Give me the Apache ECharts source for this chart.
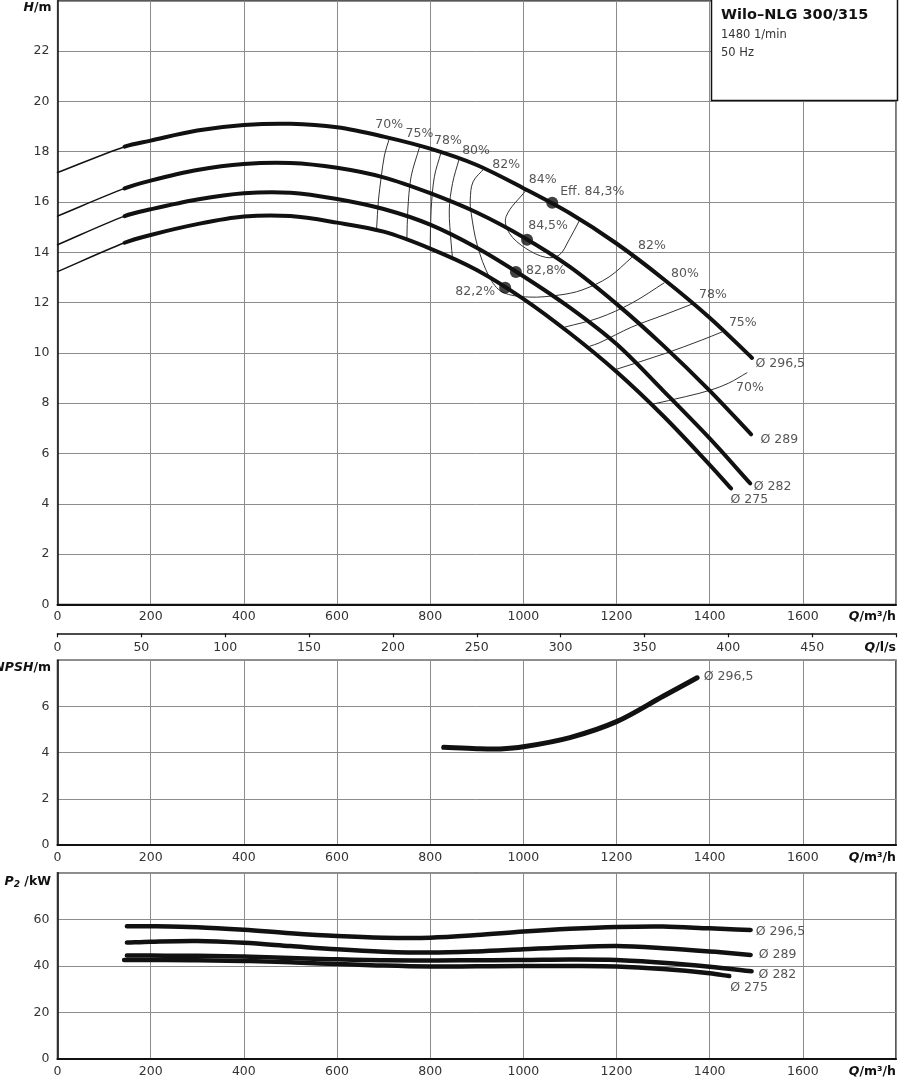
<!DOCTYPE html>
<html>
<head>
<meta charset="utf-8">
<script src="https://cdn.jsdelivr.net/npm/echarts@6/dist/echarts.min.js"></script>
<style>html,body{margin:0;padding:0;background:#fff}#c{width:899px;height:1080px}</style>
</head>
<body>
<div id="c"></div>
<script>
// ---------- data ----------
// Q [m3/h], H [m]
const qh_2965 = [[0,17.17],[144,18.2],[200,18.44],[300,18.84],[400,19.06],[500,19.11],[600,18.97],[700,18.6],[800,18.12],[900,17.47],[1000,16.55],[1100,15.55],[1200,14.35],[1300,12.95],[1400,11.4],[1491,9.8]];
const qh_289  = [[0,15.44],[144,16.54],[200,16.85],[300,17.27],[400,17.51],[500,17.55],[600,17.36],[700,16.98],[800,16.35],[900,15.58],[1000,14.6],[1100,13.42],[1200,11.95],[1300,10.3],[1400,8.5],[1489,6.76]];
const qh_282  = [[0,14.3],[144,15.44],[200,15.71],[300,16.1],[400,16.35],[500,16.37],[600,16.12],[700,15.72],[800,15.1],[900,14.18],[1000,13.05],[1100,11.8],[1200,10.35],[1300,8.5],[1400,6.6],[1487,4.81]];
const qh_275  = [[0,13.23],[144,14.38],[200,14.69],[300,15.12],[400,15.42],[500,15.44],[600,15.18],[700,14.82],[800,14.15],[900,13.3],[1000,12.15],[1100,10.78],[1200,9.25],[1300,7.5],[1400,5.55],[1446,4.61]];
const diaLabels = ['Ø 296,5','Ø 289','Ø 282','Ø 275'];

// best efficiency points
const bep = [[1062,15.97],[1008,14.5],[984,13.22],[961,12.59]];
const bepLabels = ['Eff. 84,3%','84,5%','82,8%','82,2%'];

// iso-efficiency lines
const eff70a = [[712,18.5],[702,17.87],[695,17.0],[689,16.08],[685,14.92]];
const eff75a = [[777,18.17],[759,17.0],[752,15.68],[750,14.52]];
const eff78a = [[823,17.95],[809,17.0],[802,15.68],[800,14.16]];
const eff80a = [[862,17.7],[848,16.74],[841,15.68],[845,14.36],[848,13.76]];
const eff82  = [[916,17.33],[892,16.8],[886,16.08],[888,15.56],[901,14.29],[927,13.02],[955,12.42],[1012,12.22],[1077,12.3],[1126,12.5],[1184,13.02],[1233,13.8]];
const eff84  = [[1005,16.45],[963,15.42],[970,14.76],[1005,14.16],[1048,13.8],[1077,13.89],[1098,14.49],[1120,15.25]];
const eff80b = [[1090,11.03],[1162,11.39],[1233,11.98],[1302,12.78]];
const eff78b = [[1143,10.27],[1162,10.39],[1233,11.03],[1302,11.51],[1362,11.94]];
const eff75b = [[1200,9.35],[1305,9.98],[1383,10.51],[1426,10.83]];
const eff70b = [[1275,7.95],[1348,8.26],[1402,8.52],[1441,8.8],[1480,9.21]];
const effLeftLabels  = ['70%','75%','78%','80%','82%','84%'];
const effRightLabels = ['82%','80%','78%','75%','70%'];

// NPSH [m]
const npsh_2965 = [[829,4.23],[900,4.17],[950,4.16],[1000,4.25],[1100,4.65],[1200,5.34],[1300,6.44],[1373,7.24]];

// P2 [kW]
const p2_2965 = [[149,57.0],[200,57.0],[300,56.6],[400,55.5],[500,54.0],[600,52.8],[700,52.1],[800,52.1],[900,53.2],[1000,54.7],[1100,55.9],[1200,56.7],[1300,56.9],[1400,56.1],[1488,55.4]];
const p2_289  = [[149,50.0],[200,50.4],[300,50.7],[400,49.9],[500,48.5],[600,47.1],[700,46.1],[800,45.7],[900,46.2],[1000,47.1],[1100,48.0],[1200,48.5],[1300,47.6],[1400,46.2],[1488,44.7]];
const p2_282  = [[149,44.4],[200,44.4],[300,44.3],[400,44.0],[500,43.4],[600,42.8],[700,42.4],[800,42.3],[900,42.4],[1000,42.5],[1100,42.7],[1200,42.5],[1300,41.3],[1400,39.6],[1490,37.7]];
const p2_275  = [[143,42.5],[200,42.5],[300,42.4],[400,42.1],[500,41.5],[600,40.8],[700,40.1],[800,39.7],[900,39.8],[1000,39.9],[1100,39.9],[1200,39.7],[1300,38.6],[1400,36.8],[1442,35.6]];

// axis ticks
const qTicks = {min:0, max:1800, interval:200};
const lsTicks = {min:0, max:500, interval:50};
const hTicks = {min:0, max:24, interval:2};
const npshTicks = {min:0, max:8, interval:2};
const p2Ticks = {min:0, max:80, interval:20};

// ---------- chart ----------
const FONT = 'DejaVu Sans';
const LBL = '#333';
const chart = echarts.init(document.getElementById('c'), null, {renderer:'canvas'});

// smooth path through pixel points (tangent = chord of neighbours, handle = 1/3 segment)
function smoothPath(px, from, to){
  const n = px.length;
  function tan(i){
    const a = px[Math.max(i-1,0)], b = px[Math.min(i+1,n-1)];
    const dx = b[0]-a[0], dy = b[1]-a[1], l = Math.hypot(dx,dy) || 1;
    return [dx/l, dy/l];
  }
  let d = 'M' + px[from][0] + ',' + px[from][1];
  for (let i = from; i < to; i++){
    const p1 = px[i], p2 = px[i+1];
    const L = Math.hypot(p2[0]-p1[0], p2[1]-p1[1]) / 3;
    const t1 = tan(i), t2 = tan(i+1);
    d += ' C' + (p1[0]+t1[0]*L) + ',' + (p1[1]+t1[1]*L) + ' ' + (p2[0]-t2[0]*L) + ',' + (p2[1]-t2[1]*L) + ' ' + p2[0] + ',' + p2[1];
  }
  return d;
}
function curve(data, idx, width, color, z, from, to){
  return {type:'custom', coordinateSystem:'cartesian2d', xAxisIndex:idx, yAxisIndex:idx,
    data:data, silent:true, animation:false, z:z||3, clip:false,
    renderItem:function(params, api){
      if (params.dataIndex !== 0) return null;
      const px = data.map(p => api.coord(p));
      const a = from == null ? 0 : from, b = to == null ? px.length-1 : to;
      return {type:'path', shape:{pathData: smoothPath(px, a, b)},
        style:{fill:'none', stroke:color||'#111', lineWidth:width, lineCap:'round', lineJoin:'round'}};
    }};
}
function labels(idx, items){
  return {type:'scatter', xAxisIndex:idx, yAxisIndex:idx, silent:true, animation:false, z:7,
    symbol:'circle', symbolSize:1, itemStyle:{color:'rgba(0,0,0,0)'},
    data: items.map(it => ({value: it[0], label:{show:true, formatter: it[1], position:'inside', offset: it[2],
      align: it[3] || 'center', verticalAlign:'middle', color:'#2b2b2b', fontSize:12.5, fontFamily:FONT,
      textBorderWidth:0, textBorderColor:'transparent', textShadowBlur:0}}))};
}
function qAxis(gi){
  return Object.assign({type:'value', gridIndex:gi,
    axisLine:{show:true, onZero:false, lineStyle:{color:'#111', width:2}},
    axisTick:{show:false},
    splitLine:{show:true, lineStyle:{color:'#8c8c8c', width:1}},
    axisLabel:{color:LBL, fontSize:12.5, fontFamily:FONT, margin:6, alignMaxLabel:'right',
      formatter: v => v === 1800 ? '{q|Q}{u|/m³/h}' : String(v),
      rich:{q:{fontWeight:'bold', fontStyle:'italic', color:'#111', fontSize:12.5, fontFamily:FONT},
            u:{fontWeight:'bold', color:'#111', fontSize:12.5, fontFamily:FONT}}}
  }, qTicks);
}
function vAxis(gi, ticks){
  return Object.assign({type:'value', gridIndex:gi,
    axisLine:{show:true, onZero:false, lineStyle:{color:'#111', width:1.5}},
    axisTick:{show:false},
    splitLine:{show:true, lineStyle:{color:'#8c8c8c', width:1}},
    axisLabel:{color:LBL, fontSize:12.5, fontFamily:FONT, margin:8,
      formatter: v => v === ticks.max ? '' : String(v)}
  }, ticks);
}

const L = 57.5, W = 840;
const series = [];

// iso-efficiency lines
const leftIso = [eff70a, eff75a, eff78a, eff80a, eff82, eff84];
const leftOff = [[0,-14],[0,-14],[7,-12],[17,-8],[22,-4],[17,-11]];
const rightIso = [eff80b, eff78b, eff75b, eff70b];
const rightOff = [[21,-9],[21,-9],[21,-9],[3,15]];
const isoLabels = [];
leftIso.forEach((d,i) => { series.push(curve(d, 0, 1, '#333', 2)); isoLabels.push([d[0], effLeftLabels[i], leftOff[i]]); });
isoLabels.push([eff82[eff82.length-1], effRightLabels[0], [20,-12]]);
rightIso.forEach((d,i) => { series.push(curve(d, 0, 1, '#333', 2)); isoLabels.push([d[d.length-1], effRightLabels[i+1], rightOff[i]]); });
series.push(labels(0, isoLabels));

// Q-H curves: thin start (first segment), thick remainder
const qh = [qh_2965, qh_289, qh_282, qh_275];
const endOff = [[3.4,6.3],[9.3,5.6],[3.6,3.6],[-0.6,11.5]];
qh.forEach(d => {
  series.push(curve(d, 0, 1.5, '#111', 4, 0, 1));
  series.push(curve(d, 0, 4, '#111', 5, 1, d.length-1));
});
series.push(labels(0, qh.map((d,i) => [d[d.length-1], diaLabels[i], endOff[i], 'left'])));

// best efficiency points
const bepOff = [[40,-11],[21,-14],[30,-1],[-30,4]];
series.push({type:'scatter', xAxisIndex:0, yAxisIndex:0, data:bep, symbol:'circle', symbolSize:12,
  itemStyle:{color:'#111'}, silent:true, animation:false, z:6});
series.push(labels(0, bep.map((p,i) => [p, bepLabels[i], bepOff[i]])));

// NPSH
series.push(curve(npsh_2965, 2, 5, '#111', 5));
series.push(labels(2, [[npsh_2965[npsh_2965.length-1], diaLabels[0], [6.7,-1.5], 'left']]));

// P2
const p2 = [p2_2965, p2_289, p2_282, p2_275];
const p2Off = [[5,2],[8,0],[7,3.5],[1,12]];
p2.forEach(d => series.push(curve(d, 3, 4.5, '#111', 5)));
series.push(labels(3, p2.map((d,i) => [d[d.length-1], diaLabels[i], p2Off[i], 'left'])));

const option = {
  backgroundColor:'#fff',
  animation:false,
  textStyle:{fontFamily:FONT},
  grid:[
    {left:L, width:W, top:0.8, height:603.6, show:true, borderColor:'#222', borderWidth:1.2},
    {left:L, width:W, top:632.3, height:1},
    {left:L, width:W, top:660.2, height:184.8, show:true, borderColor:'#222', borderWidth:1.5},
    {left:L, width:W, top:872.7, height:186.3, show:true, borderColor:'#222', borderWidth:1.5}
  ],
  xAxis:[
    qAxis(0),
    Object.assign({type:'value', gridIndex:1,
      axisLine:{show:true, lineStyle:{color:'#111', width:1.5}},
      axisTick:{show:true, length:4, lineStyle:{color:'#111', width:1.2}},
      splitLine:{show:false},
      axisLabel:{color:LBL, fontSize:12.5, fontFamily:FONT, margin:8, alignMaxLabel:'right',
        formatter: v => v === 500 ? '{q|Q}{u|/l/s}' : String(v),
        rich:{q:{fontWeight:'bold', fontStyle:'italic', color:'#111', fontSize:12.5, fontFamily:FONT},
              u:{fontWeight:'bold', color:'#111', fontSize:12.5, fontFamily:FONT}}}
    }, lsTicks),
    qAxis(2),
    qAxis(3)
  ],
  yAxis:[
    vAxis(0, hTicks),
    {type:'value', gridIndex:1, show:false, min:0, max:1},
    vAxis(2, npshTicks),
    vAxis(3, p2Ticks)
  ],
  graphic:[
    {type:'rect', z:100, shape:{x:711.5, y:-1, width:186, height:101.5}, style:{fill:'#fff', stroke:'#111', lineWidth:1.5}},
    {type:'text', z:101, style:{text:'Wilo–NLG 300/315', x:721, y:15.5, verticalAlign:'middle', fill:'#111', font:'bold 14.5px "DejaVu Sans"'}},
    {type:'text', z:101, style:{text:'1480 1/min', x:721, y:35, verticalAlign:'middle', fill:'#333', font:'11.5px "DejaVu Sans"'}},
    {type:'text', z:101, style:{text:'50 Hz', x:721, y:53, verticalAlign:'middle', fill:'#333', font:'11.5px "DejaVu Sans"'}},
    {type:'text', z:101, style:{text:'{a|H}{b|/m}', x:51.5, y:7.5, align:'right', verticalAlign:'middle',
      rich:{a:{font:'italic bold 12.5px "DejaVu Sans"', fill:'#111'}, b:{font:'bold 12.5px "DejaVu Sans"', fill:'#111'}}}},
    {type:'text', z:101, style:{text:'{a|NPSH}{b|/m}', x:51, y:668, align:'right', verticalAlign:'middle',
      rich:{a:{font:'italic bold 12.5px "DejaVu Sans"', fill:'#111'}, b:{font:'bold 12.5px "DejaVu Sans"', fill:'#111'}}}},
    {type:'text', z:101, style:{text:'{a|P}{s|2}{b| /kW}', x:51, y:882, align:'right', verticalAlign:'middle',
      rich:{a:{font:'italic bold 12.5px "DejaVu Sans"', fill:'#111'}, s:{font:'italic bold 9px "DejaVu Sans"', fill:'#111', padding:[6,0,0,0]}, b:{font:'bold 12.5px "DejaVu Sans"', fill:'#111'}}}}
  ],
  series: series
};
chart.setOption(option);
</script>
</body>
</html>
